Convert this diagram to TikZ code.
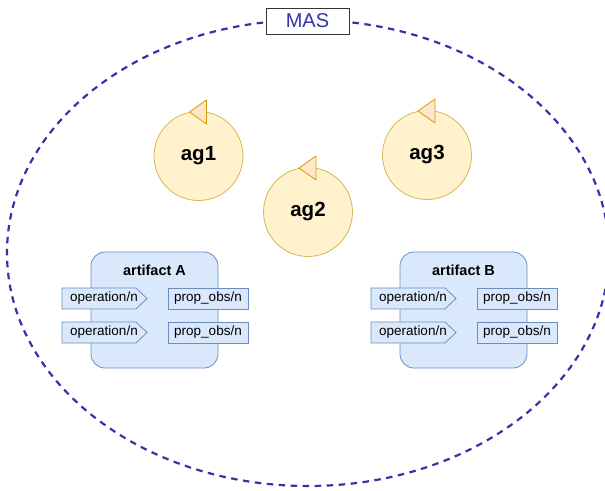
\documentclass[tikz,border=0pt]{standalone}
\usepackage{fontspec}
\setmainfont{Liberation Sans}
\definecolor{masblue}{HTML}{3333AA}
\definecolor{agfill}{HTML}{FFF2CC}
\definecolor{agline}{HTML}{D6B656}
\definecolor{triFill}{HTML}{FFE6CC}
\definecolor{triLine}{HTML}{D79B00}
\definecolor{artFill}{HTML}{DAE8FC}
\definecolor{artLine}{HTML}{6C8EBF}
\tikzset{
  agent/.style={circle, draw=agline, fill=agfill, line width=0.8pt, minimum size=89pt, inner sep=0pt, font=\fontsize{20.5}{24}\selectfont\bfseries},
  artbox/.style={draw=artLine, fill=artFill, line width=0.8pt, rounded corners=14pt},
  propbox/.style={draw=artLine, fill=artFill, line width=0.8pt},
  optext/.style={font=\fontsize{13.5}{16}\selectfont, inner sep=0pt},
  arttitle/.style={font=\fontsize{14.5}{17}\selectfont\bfseries, inner sep=0pt},
}
\begin{document}
\begin{tikzpicture}[x=1pt,y=-1pt]
\useasboundingbox (0,0) rectangle (605,490);
% system boundary
\begin{scope}
\clip (0,0) rectangle (605,490);
\draw[masblue, line width=2.2pt, dash pattern=on 6.5pt off 5.5pt] (308,253) ellipse [x radius=301, y radius=233];
\end{scope}
\node[draw=black!80, fill=white, line width=0.8pt, minimum width=83pt, minimum height=26pt, inner sep=0pt, text=masblue, font=\fontsize{20}{23}\selectfont] (mas) at (307.5,21) {MAS};

% agents with their reasoning cycle marker
\foreach \n/\cx/\cy in {ag1/198.5/156, ag2/308/212, ag3/427/155}{
  \node[agent] (\n) at (\cx,\cy) {\n};
  \draw[triLine, fill=triFill, line width=0.8pt, line join=round]
    (\cx-9,\cy-44) -- (\cx+8,\cy-56) -- (\cx+8,\cy-32) -- cycle;
}

% artifacts
\foreach \a/\x/\lbl in {A/91/artifact A, B/400/artifact B}{
  \draw[artbox] (\x,252) rectangle (\x+127,368);
  \node[arttitle] (title\a) at (\x+63.5,270) {\lbl};
  \foreach \k/\y in {1/288, 2/322}{
    \draw[propbox] (\x-29,\y) -- (\x+45,\y) -- (\x+56,\y+10.5) -- (\x+45,\y+21) -- (\x-29,\y+21) -- cycle;
    \node[optext] (op\a\k) at (\x+13,\y+10.5) {operation/n};
    \draw[propbox] (\x+77,\y) rectangle (\x+157,\y+21);
    \node[optext] (obs\a\k) at (\x+117,\y+10.5) {prop\_obs/n};
  }
}
\end{tikzpicture}
\end{document}
